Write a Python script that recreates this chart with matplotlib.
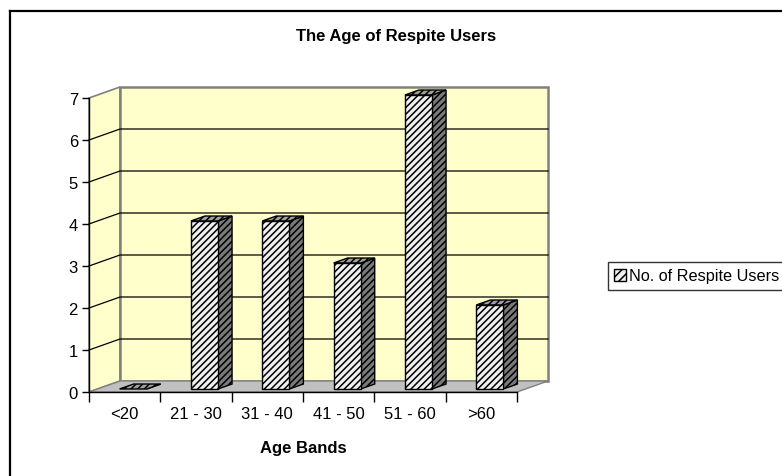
import matplotlib
matplotlib.use("Agg")
import matplotlib.pyplot as plt
from matplotlib.patches import Polygon, Rectangle, Patch
from matplotlib.lines import Line2D

plt.rcParams['font.family'] = ['Liberation Sans', 'DejaVu Sans']
plt.rcParams['hatch.linewidth'] = 1.1

# Data
categories = ["<20", "21 - 30", "31 - 40", "41 - 50", "51 - 60", ">60"]
users = [0, 4, 4, 3, 7, 2]
y_ticks = [0, 1, 2, 3, 4, 5, 6, 7]
title = "The Age of Respite Users"
x_title = "Age Bands"
series_name = "No. of Respite Users"

W, H = 782, 477
fig = plt.figure(figsize=(W / 100, H / 100), dpi=100)

# outer chart-area border (left and top edges)
fig.add_artist(Line2D([10 / W, 10 / W], [0, 1 - 12 / H], color="black", lw=1.6,
                      transform=fig.transFigure))
fig.add_artist(Line2D([10 / W, 1], [1 - 12 / H, 1 - 12 / H], color="black", lw=1.6,
                      transform=fig.transFigure))

# front plane of the 3D plot
ax = fig.add_axes([89 / W, 84 / H, 428 / W, 294 / H])
n = len(categories)
ymax = 7
ax.set_xlim(0, n)
ax.set_ylim(0, ymax)
ax.patch.set_visible(False)
for s in ["top", "right"]:
    ax.spines[s].set_visible(False)
ax.spines["left"].set_linewidth(1.0)
ax.spines["bottom"].set_linewidth(1.0)

# depth of the plot box, in data units
DX = 31 / (428 / n)
DY = 11 / (294 / ymax)

wall_col = "#ffffcc"
edge_grey = "#808080"

# side wall, back wall and floor
ax.add_patch(Polygon([(0, 0), (DX, DY), (DX, ymax + DY), (0, ymax)], closed=True,
                     facecolor=wall_col, edgecolor=edge_grey, lw=1.2, clip_on=False, zorder=0))
ax.add_patch(Rectangle((DX, DY), n, ymax, facecolor=wall_col, edgecolor=edge_grey,
                       lw=1.8, clip_on=False, zorder=0))
ax.add_patch(Polygon([(0, 0), (n, 0), (n + DX, DY), (DX, DY)], closed=True,
                     facecolor="#c0c0c0", edgecolor=edge_grey, lw=1.0, clip_on=False, zorder=1))

# gridlines across side and back walls
for v in y_ticks[1:-1]:
    ax.plot([0, DX, n + DX], [v, v + DY, v + DY], color="black", lw=0.9,
            clip_on=False, zorder=1)

# columns
bw = 0.38
f_front = 8.5 / 31
f_back = 22.5 / 31
hatch = "/////"
for i, v in enumerate(users):
    x0 = i + 0.5 - bw / 2 + f_front * DX
    y0 = f_front * DY
    ddx = (f_back - f_front) * DX
    ddy = (f_back - f_front) * DY
    side = Polygon([(x0 + bw, y0), (x0 + bw + ddx, y0 + ddy),
                    (x0 + bw + ddx, v + y0 + ddy), (x0 + bw, v + y0)], closed=True,
                   facecolor="#7a7a7a", edgecolor="black", hatch=hatch, lw=1.0,
                   clip_on=False, zorder=3)
    top = Polygon([(x0, v + y0), (x0 + bw, v + y0), (x0 + bw + ddx, v + y0 + ddy),
                   (x0 + ddx, v + y0 + ddy)], closed=True,
                  facecolor="#a0a0a0", edgecolor="black", hatch=hatch, lw=1.0,
                  clip_on=False, zorder=3)
    front = Rectangle((x0, y0), bw, v, facecolor="#f0f0f0", edgecolor="black",
                      hatch=hatch, lw=1.0, clip_on=False, zorder=4)
    ax.add_patch(side)
    ax.add_patch(top)
    if v > 0:
        ax.add_patch(front)

# axes ticks and labels
ax.set_yticks(y_ticks)
ax.set_yticklabels([str(t) for t in y_ticks], fontsize=12)
ax.tick_params(axis="y", direction="out", length=5, width=1.0, pad=3)
ax.set_xticks(range(n + 1))
ax.set_xticklabels([""] * (n + 1))
ax.tick_params(axis="x", which="major", direction="out", length=7, width=1.0)
ax.set_xticks([i + 0.5 for i in range(n)], minor=True)
ax.set_xticklabels(categories, minor=True, fontsize=12)
ax.tick_params(axis="x", which="minor", length=0, pad=10)

fig.text(396 / W, 1 - 37 / H, title, ha="center", va="center", fontsize=12,
         fontweight="bold")
fig.text(303 / W, 1 - 448 / H, x_title, ha="center", va="center", fontsize=12,
         fontweight="bold")

# legend
handle = Patch(facecolor="#f0f0f0", edgecolor="black", hatch="////", lw=1.0)
leg = fig.legend([handle], [series_name], loc="center left",
                 bbox_to_anchor=(608 / W, 1 - 277 / H), fontsize=11.7,
                 frameon=True, fancybox=False, handlelength=0.7, handleheight=0.7,
                 handletextpad=0.2, borderpad=0.38, borderaxespad=0)
leg.get_frame().set_edgecolor("black")
leg.get_frame().set_linewidth(1.0)

fig.savefig("out.png", dpi=100)
